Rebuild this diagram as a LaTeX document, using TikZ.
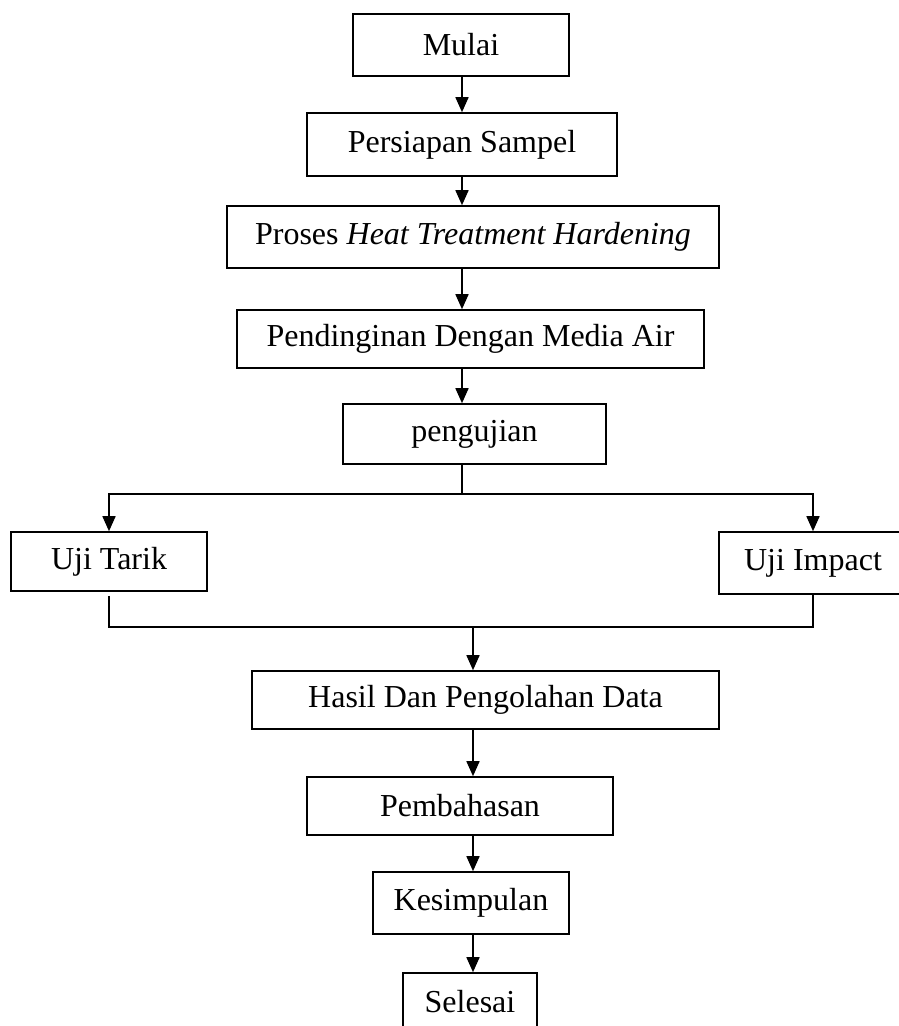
\documentclass[tikz,border=0pt]{standalone}
\usepackage{fontspec}
\setmainfont{Liberation Serif}
\usetikzlibrary{arrows.meta}
\tikzset{
  box/.style={draw=black, line width=1.6pt, rectangle, inner sep=0pt,
    font=\fontsize{32}{37}\selectfont, align=center},
  arr/.style={draw=black, line width=1.6pt, -{Triangle[length=15pt,width=13pt]}},
  ln/.style={draw=black, line width=1.6pt},
}
\begin{document}
\begin{tikzpicture}[x=1pt,y=-1pt]
\useasboundingbox (0,0) rectangle (899,1026);
\clip (0,0) rectangle (899,1026);
\fill[white] (0,0) rectangle (899,1026);
% nodes
\node[box, minimum width=216pt, minimum height=62pt] (mulai) at (461,45) {Mulai};
\node[box, minimum width=310pt, minimum height=63pt] (persiapan) at (462,144.5) {Persiapan Sampel};
\node[box, minimum width=492pt, minimum height=62pt] (heat) at (473,237) {Proses \textit{Heat Treatment Hardening}};
\node[box, minimum width=467pt, minimum height=58pt] (dingin) at (470.5,339) {Pendinginan Dengan Media Air};
\node[box, minimum width=263pt, minimum height=60pt] (uji) at (474.5,434) {pengujian};
\node[box, minimum width=196pt, minimum height=59pt] (tarik) at (109,561.5) {Uji Tarik};
\node[box, minimum width=188pt, minimum height=62pt] (impact) at (813,563) {Uji Impact};
\node[box, minimum width=467pt, minimum height=58pt] (hasil) at (485.5,700) {Hasil Dan Pengolahan Data};
\node[box, minimum width=306pt, minimum height=58pt] (bahas) at (460,806) {Pembahasan};
\node[box, minimum width=196pt, minimum height=62pt] (simpul) at (471,903) {Kesimpulan};
\node[box, minimum width=134pt, minimum height=58pt] (selesai) at (470,1002) {Selesai};
% guide coordinates
\coordinate (uc) at (462,0);
\coordinate (split) at (462,494);
\coordinate (join) at (473,627);
% upper arrows
\draw[arr] (mulai.south -| uc) -- (persiapan.north -| uc);
\draw[arr] (persiapan.south -| uc) -- (heat.north -| uc);
\draw[arr] (heat.south -| uc) -- (dingin.north -| uc);
\draw[arr] (dingin.south -| uc) -- (uji.north -| uc);
% split
\draw[ln] (uji.south -| uc) -- (split);
\draw[arr] (split) -| (tarik.north);
\draw[arr] (split) -| (impact.north);
% join
\draw[ln] ([yshift=-4pt]tarik.south) |- (join);
\draw[ln] (impact.south) |- (join);
\draw[arr] (join) -- (hasil.north -| join);
% lower arrows
\draw[arr] (hasil.south -| join) -- (bahas.north -| join);
\draw[arr] (bahas.south -| join) -- (simpul.north -| join);
\draw[arr] (simpul.south -| join) -- (selesai.north -| join);
\end{tikzpicture}
\end{document}
